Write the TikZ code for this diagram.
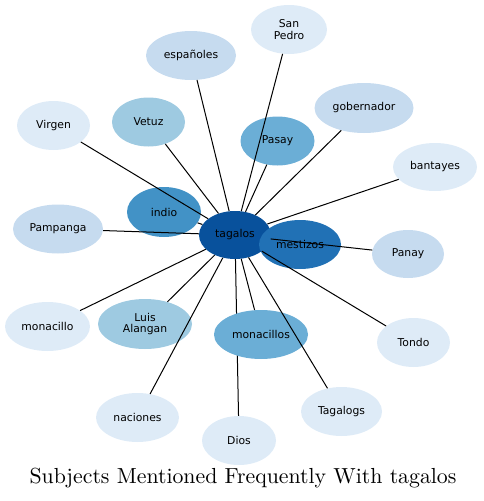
\documentclass[tikz,border=0pt]{standalone}
\usepackage{fontspec}
\usepackage{xcolor}
\usepackage{tikz}
\usetikzlibrary{shapes.geometric,backgrounds}
\newfontfamily\topicfont{DejaVu Sans}
\newfontfamily\titlefont{lmroman10-regular.otf}
\definecolor{bluea}{HTML}{08519C}
\definecolor{blueb}{HTML}{2171B5}
\definecolor{bluec}{HTML}{4292C6}
\definecolor{blued}{HTML}{6BAED6}
\definecolor{bluee}{HTML}{9ECAE1}
\definecolor{bluef}{HTML}{C6DBEF}
\definecolor{blueg}{HTML}{DEEBF7}
\tikzset{
  topic/.style={ellipse, draw=none, inner sep=0pt, align=center, text=black,
                font=\topicfont\fontsize{10.8}{11.7}\selectfont},
  rad/.style 2 args={minimum width=#1pt, minimum height=#2pt},
  link/.style={draw=black, line width=1pt}
}

\begin{document}
\begin{tikzpicture}[
  x=1pt, y=-1pt,
  ttl/.style={font=\titlefont\fontsize{21.8}{24}\selectfont, text=black}
]
\useasboundingbox (0,0) rectangle (483,501);
% hub and its neighbours
\node[topic, fill=bluea, rad={72}{48}] (tag) at (235,235) {tagalos};
\node[topic, fill=blueb, rad={82}{49}] (mes) at (300,244.5) {mestizos};
\node[topic, fill=bluec, rad={74}{50}] (ind) at (164,212) {indio};
\node[topic, fill=blued, rad={74}{49}] (pas) at (277.5,141) {Pasay};
\node[topic, fill=blued, rad={94}{49}] (mcs) at (261,334.5) {monacillos};
\node[topic, fill=bluee, rad={73}{49}] (vet) at (148.5,122) {Vetuz};
\node[topic, fill=bluee, rad={94}{50}] (lui) at (145,324) {Luis\\Alangan};
\node[topic, fill=bluef, rad={90}{49}] (esp) at (191,55.5) {españoles};
\node[topic, fill=bluef, rad={99}{50}] (gob) at (364,108) {gobernador};
\node[topic, fill=bluef, rad={90}{49}] (pam) at (58,229) {Pampanga};
\node[topic, fill=bluef, rad={72}{48}] (pan) at (408,254) {Panay};
\node[topic, fill=blueg, rad={76}{49}] (sp) at (289,29.5) {San\\Pedro};
\node[topic, fill=blueg, rad={73}{49}] (vir) at (53.5,125.5) {Virgen};
\node[topic, fill=blueg, rad={84}{48}] (ban) at (435,167) {bantayes};
\node[topic, fill=blueg, rad={85}{49}] (mcl) at (47.5,326.5) {monacillo};
\node[topic, fill=blueg, rad={73}{49}] (ton) at (413.5,342.5) {Tondo};
\node[topic, fill=blueg, rad={83}{49}] (nac) at (137.5,417.5) {naciones};
\node[topic, fill=blueg, rad={74}{49}] (dio) at (239,440.5) {Dios};
\node[topic, fill=blueg, rad={81}{49}] (tgs) at (341.5,411.5) {Tagalogs};
% links
\foreach \t in {esp,sp,pas,gob,ban,pan,ton,tgs,mcs,nac,lui,mcl,pam,vir,vet,ind}
  \draw[link] (tag) -- (\t);
\begin{scope}[on background layer]
\draw[link] (tag) -- (mes);
\draw[link] (tag) -- (dio);
\end{scope}
\node[ttl] (title) at (243,478) {Subjects Mentioned Frequently With tagalos};
\end{tikzpicture}
\end{document}
